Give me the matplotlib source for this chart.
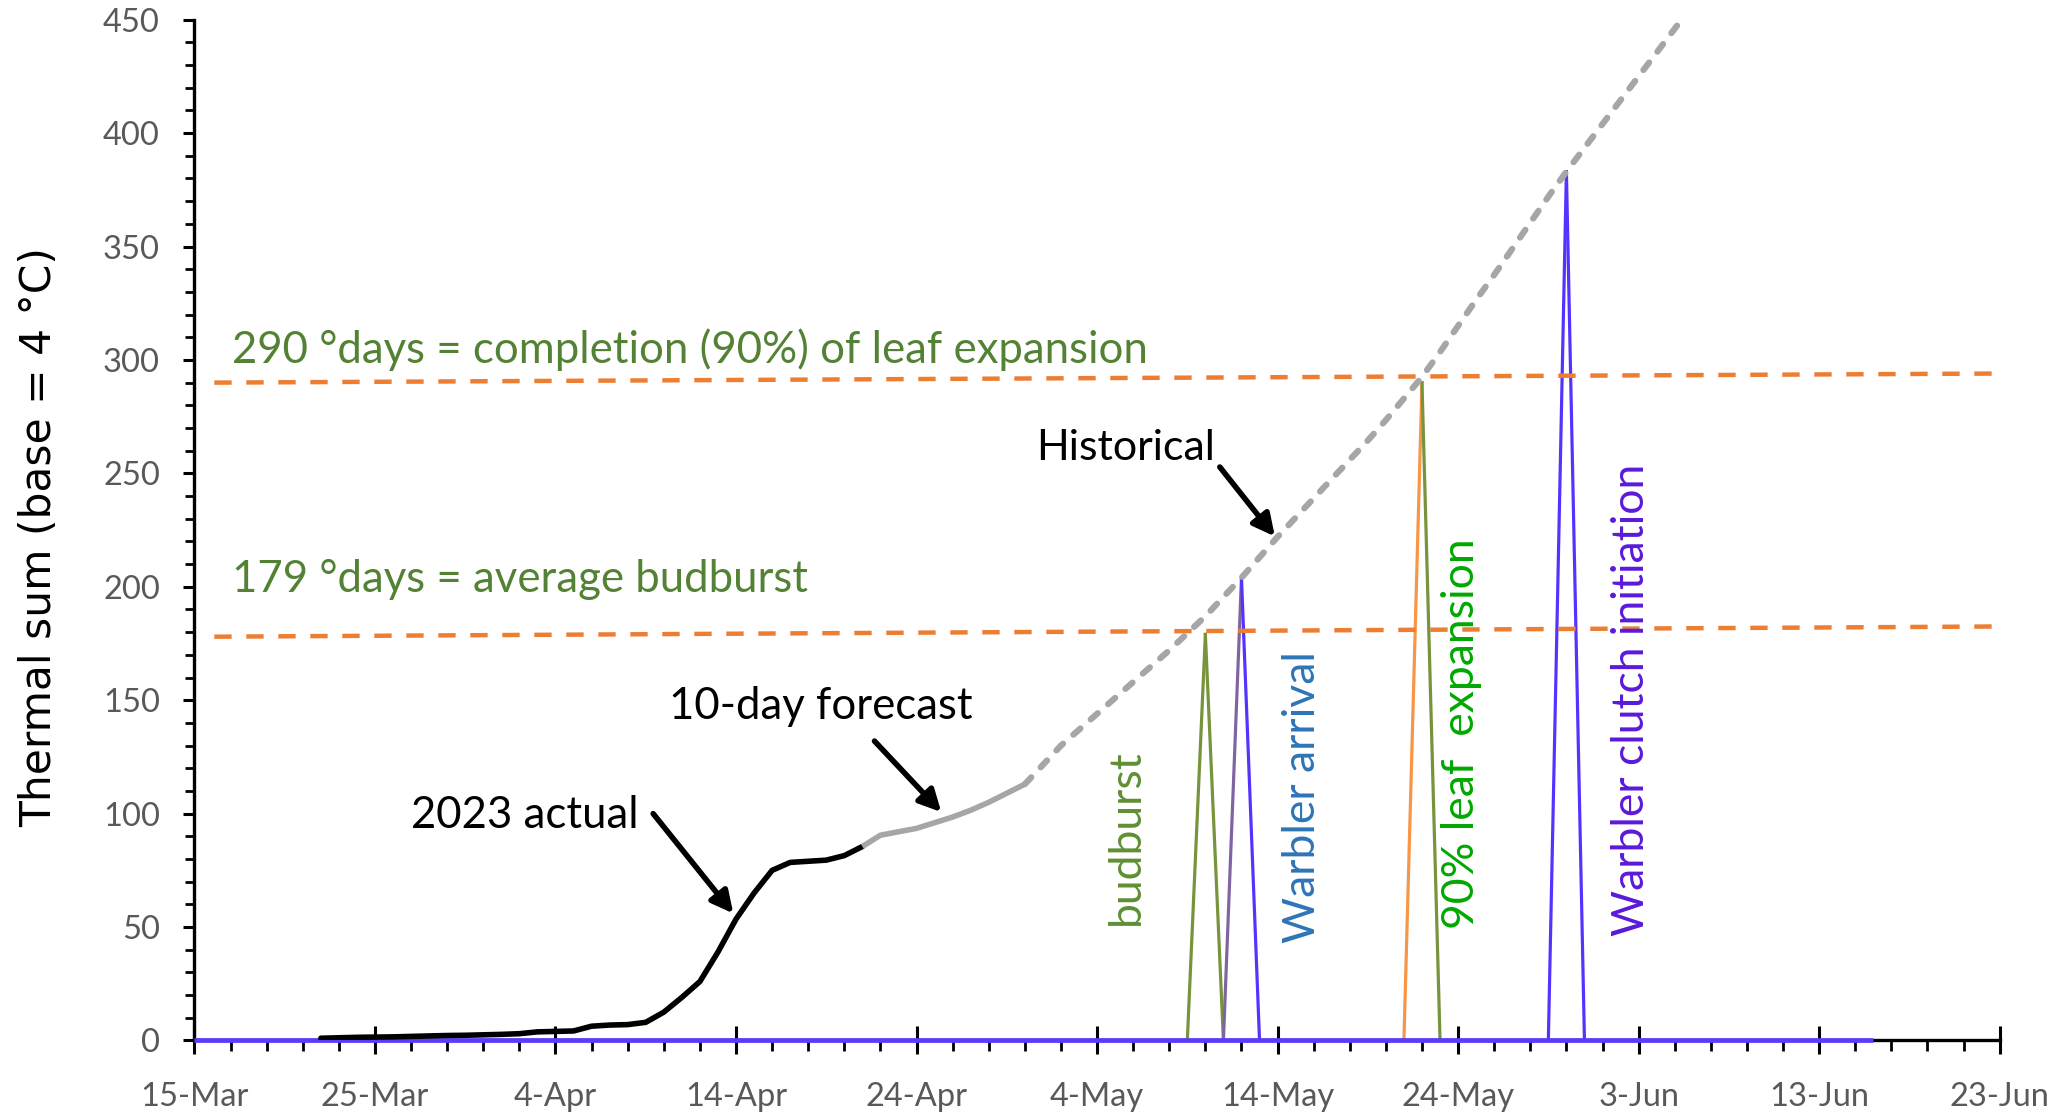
import numpy as np
import matplotlib
matplotlib.use("Agg")
import matplotlib.pyplot as plt
from matplotlib.ticker import MultipleLocator, FixedLocator, FixedFormatter

plt.rcParams['font.family'] = ['Lato', 'DejaVu Sans']

# ---------------- data (x = days since 15-Mar) ----------------
tick_labels = ['15-Mar', '25-Mar', '4-Apr', '14-Apr', '24-Apr', '4-May',
               '14-May', '24-May', '3-Jun', '13-Jun', '23-Jun']

actual_start = 7          # 22-Mar
actual_values = [1.0, 1.2, 1.4, 1.5, 1.6, 1.8, 2.0, 2.2, 2.3, 2.5, 2.7, 3.0,
                 3.8, 4.0, 4.2, 6.3, 6.8, 7.0, 8.0, 12.5, 19.0, 26.0, 39.0,
                 53.5, 65.0, 75.0, 78.5, 79.0, 79.5, 81.5, 85.5]

forecast_start = 37       # 21-Apr
forecast_values = [85.5, 90.5, 92.0, 93.5, 96.0, 98.5, 101.5, 105.0, 109.0, 113.0]

historical_start = 46     # 30-Apr
historical_values = [113, 121.5, 130, 137, 144, 151, 158, 165, 172, 179.5, 187,
                     195.5, 204, 213, 222, 230.5, 239, 247.5, 256, 264.5, 273.5,
                     283, 292.5, 303.5, 315, 326.5, 337.5, 349, 360.5, 372, 383,
                     393.5, 404, 414.5, 425, 435.5, 446, 456.5]

series_end = 93           # last day of the event series (16-Jun)
event_names = ['budburst', 'Warbler arrival', '90% leaf  expansion',
               'Warbler clutch initiation']
event_days = [56, 58, 68, 76]
event_peaks = [179, 204, 290, 383]
rise_colors = ['#77933C', '#8064A2', '#F79646', '#5533FF']
fall_colors = ['#77933C', '#5533FF', '#77933C', '#5533FF']
label_colors = ['#5F8F33', '#2E75B6', '#00A800', '#5B19DB']
label_x = [52.3, 62.1, 70.87, 80.3]
label_y = [51, 42.8, 49, 46]

thr_x = [1.1, 99.8]
thr_179 = [178.0, 182.5]
thr_290 = [290.0, 294.0]

# ---------------- figure ----------------
fig = plt.figure(figsize=(20.6, 11.17), dpi=100)
ax = fig.add_axes([0.0944, 0.0685, 0.8763, 0.9139])
ax.set_xlim(0, 100)
ax.set_ylim(0, 450)

days_all = np.arange(0, series_end + 1)

# event spikes
for d, p, rc, fc in zip(event_days, event_peaks, rise_colors, fall_colors):
    s = np.zeros(len(days_all))
    s[d] = p
    ax.plot(days_all[d - 1:d + 1], s[d - 1:d + 1], color=rc, lw=2.3, zorder=2)
    ax.plot(days_all[d:d + 2], s[d:d + 2], color=fc, lw=2.3, zorder=2)

# baseline of the event series (zeros)
base = np.zeros(len(days_all))
ax.plot(days_all, base, color='#5B3BFF', lw=3.4, zorder=3, clip_on=False,
        solid_capstyle='butt')

# threshold lines
ax.plot(thr_x, thr_179, color='#ED7D31', lw=3.2, dashes=(3.9, 3.3), zorder=5)
ax.plot(thr_x, thr_290, color='#ED7D31', lw=3.2, dashes=(3.9, 3.3), zorder=5)

# curves
xa = np.arange(actual_start, actual_start + len(actual_values))
ax.plot(xa, actual_values, color='black', lw=4.0, solid_joinstyle='round',
        solid_capstyle='round', zorder=6)
xf = np.arange(forecast_start, forecast_start + len(forecast_values))
ax.plot(xf, forecast_values, color='#A6A6A6', lw=4.0, solid_joinstyle='round',
        solid_capstyle='butt', zorder=6)
xh = np.arange(historical_start, historical_start + len(historical_values))
ax.plot(xh, historical_values, color='#A6A6A6', lw=4.5, dashes=(1.5, 2.2),
        dash_capstyle='round', zorder=6)

# axes styling
for side in ['top', 'right']:
    ax.spines[side].set_visible(False)
for side in ['left', 'bottom']:
    ax.spines[side].set_linewidth(2.4)
    ax.spines[side].set_color('black')

ax.xaxis.set_major_locator(FixedLocator(np.arange(0, 101, 10)))
ax.xaxis.set_major_formatter(FixedFormatter(tick_labels))
ax.xaxis.set_minor_locator(MultipleLocator(2))
ax.yaxis.set_major_locator(MultipleLocator(50))
ax.yaxis.set_minor_locator(MultipleLocator(10))

ax.tick_params(axis='x', which='major', direction='inout', length=19.5,
               width=2.2, pad=20, labelsize=23.5, labelcolor='#595959')
ax.tick_params(axis='x', which='minor', direction='out', length=8, width=2)
ax.tick_params(axis='y', which='major', direction='out', length=8, width=2.2,
               pad=16.8, labelsize=23.5, labelcolor='#595959')
ax.tick_params(axis='y', which='minor', direction='out', length=6.5, width=2)

fig.text(0.0191, 0.519, 'Thermal sum (base = 4 °C)', rotation=90,
         ha='center', va='center', fontsize=30.5, family='DejaVu Sans',
         color='black')

# annotations
green = '#548235'
ax.text(2.1, 298.5, '290 °days = completion (90%) of leaf expansion',
        color=green, fontsize=31.5, ha='left', va='baseline', zorder=7)
ax.text(2.1, 197.8, '179 °days = average budburst',
        color=green, fontsize=31.5, ha='left', va='baseline', zorder=7)
ax.text(34.7, 141.5, '10-day forecast', fontsize=31.5, ha='center',
        va='baseline', zorder=7)
ax.text(18.3, 93.5, '2023 actual', fontsize=31.5, ha='center',
        va='baseline', zorder=7)
ax.text(51.57, 255.9, 'Historical', fontsize=31, ha='center',
        va='baseline', zorder=7)

arrow_tails = [(25.41, 100.0), (37.67, 132.0), (56.8, 252.8)]
arrow_tips = [(29.85, 56.0), (41.37, 100.7), (59.85, 222.2)]
for tail, tip in zip(arrow_tails, arrow_tips):
    ax.annotate('', xy=tip, xytext=tail,
                arrowprops=dict(arrowstyle='-|>,head_length=0.65,head_width=0.33',
                                lw=4, color='black', shrinkA=0, shrinkB=0,
                                mutation_scale=20),
                zorder=7)

for name, c, lx, ly in zip(event_names, label_colors, label_x, label_y):
    ax.text(lx, ly, name, rotation=90, rotation_mode='anchor', ha='left',
            va='baseline', color=c, fontsize=32, zorder=7)

fig.savefig('out.png', dpi=100)
